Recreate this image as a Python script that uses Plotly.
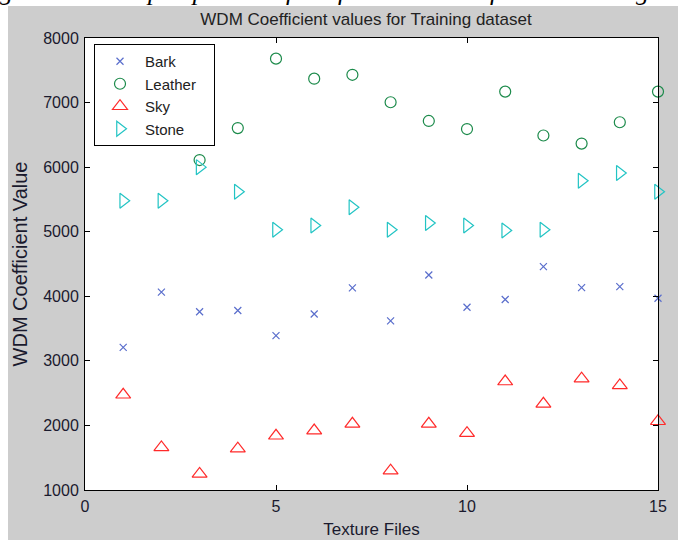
import plotly.graph_objects as go

files = list(range(1, 16))
bark = [3210, 4065, 3760, 3780, 3390, 3725, 4130, 3620, 4330, 3830, 3950, 4460, 4135, 4150, 3970]
leather = [6470, 6900, 6110, 6605, 7680, 7370, 7430, 7005, 6715, 6590, 7170, 6490, 6365, 6695, 7170]
sky = [2475, 1660, 1250, 1640, 1840, 1920, 2025, 1300, 2025, 1880, 2680, 2335, 2725, 2620, 2065]
stone = [5480, 5480, 6000, 5620, 5030, 5095, 5380, 5030, 5135, 5095, 5020, 5030, 5790, 5910, 5620]

series = [
    ("Bark", bark, "x-thin-open", "#5A6ECC", 7),
    ("Leather", leather, "circle-open", "#1B8A4A", 11),
    ("Sky", sky, "triangle-up-open", "#FF2A2A", 13),
    ("Stone", stone, "triangle-right-open", "#22C4C4", 13),
]

fig = go.Figure()
for name, vals, sym, col, sz in series:
    fig.add_trace(go.Scatter(
        x=files, y=vals, mode="markers", name=name + "\u00a0\u00a0\u00a0",
        marker=dict(symbol=sym, size=sz, color=col, line=dict(color=col, width=1.2)),
        cliponaxis=False,
    ))

font = "Liberation Sans, Arial, sans-serif"
L, R, T, B = 85, 20, 38, 50
W, H = 678, 540
pw, ph = W - L - R, H - T - B

def px2x(p):
    return (p - L) / pw

def py2y(p):
    return (H - B - p) / ph

fig.update_layout(
    width=W, height=H,
    margin=dict(l=L, r=R, t=T, b=B, autoexpand=False),
    paper_bgcolor="white",
    plot_bgcolor="white",
    font=dict(family=font, size=16, color="#1a1a2e"),
    title=dict(text="WDM Coefficient values for Training dataset", x=366 / W, xanchor="center",
               y=1 - 19 / H, yanchor="middle", font=dict(size=17, color="#222")),
    xaxis=dict(range=[0, 15], dtick=5, tick0=0, showgrid=False, zeroline=False,
               ticks="inside", ticklen=5, tickcolor="black", mirror="ticks",
               showline=True, linecolor="black", linewidth=1, ticklabelstandoff=2,
               title=dict(text="Texture Files", standoff=8, font=dict(size=17))),
    yaxis=dict(range=[1000, 8000], dtick=1000, tick0=1000, showgrid=False, zeroline=False,
               ticks="inside", ticklen=5, tickcolor="black", mirror="ticks",
               showline=True, linecolor="black", linewidth=1, ticklabelstandoff=2,
               title=dict(text="WDM Coefficient Value", standoff=10, font=dict(size=20))),
    legend=dict(x=px2x(94), y=py2y(44), xanchor="left", yanchor="top",
                bgcolor="white", bordercolor="black", borderwidth=1,
                font=dict(size=15, color="#222"), tracegroupgap=0, itemwidth=40),
    showlegend=True,
    shapes=[
        dict(type="rect", xref="paper", yref="paper", layer="below",
             x0=px2x(8), x1=px2x(W + 5), y0=py2y(H + 5), y1=py2y(6),
             fillcolor="#CDCDCD", line=dict(width=0)),
        dict(type="rect", xref="paper", yref="paper", layer="below",
             x0=0, x1=1, y0=0, y1=1, fillcolor="white", line=dict(width=0)),
    ],
    annotations=[
        dict(text="<i>gives a visual perspective of the feature values for the training dataset</i>",
             xref="paper", yref="paper", x=px2x(-2), y=py2y(8), xanchor="left", yanchor="bottom",
             showarrow=False, font=dict(family="Liberation Serif, Times New Roman, serif", size=26,
                                        color="black")),
    ],
)

fig.write_html("out.html", post_script="document.body.style.margin='0px';",
               config={"displayModeBar": False})
